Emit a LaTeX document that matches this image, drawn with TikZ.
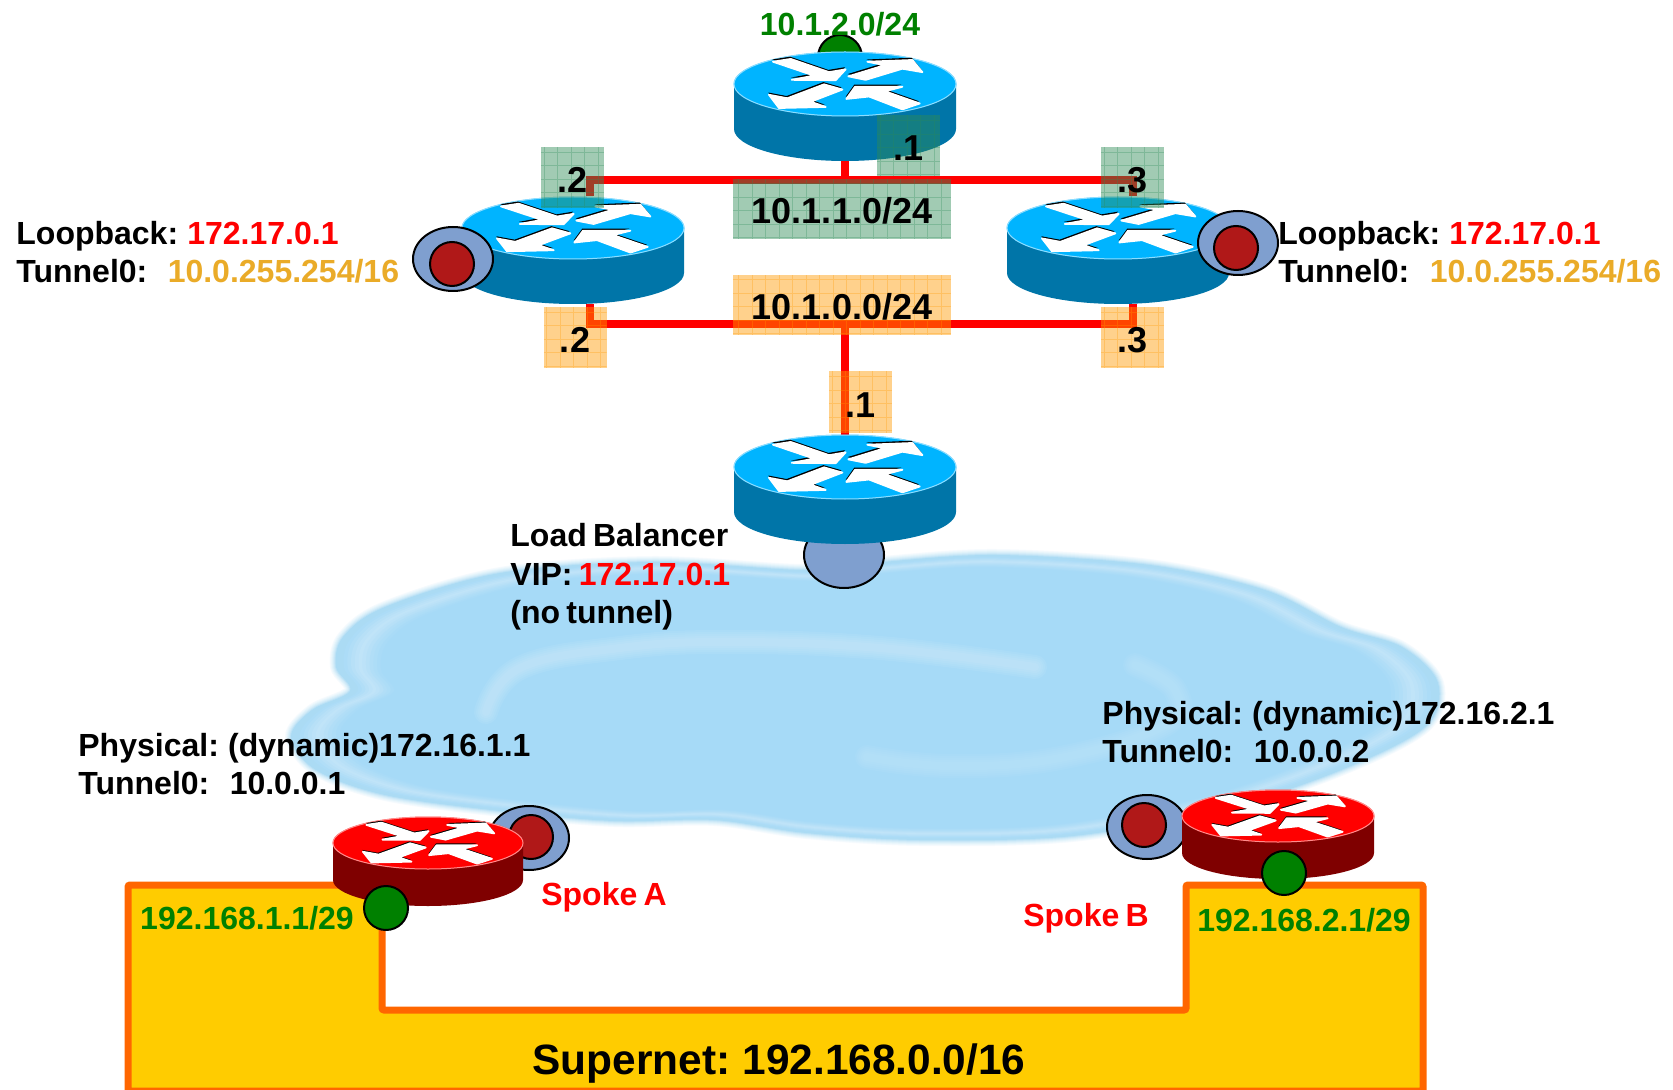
\documentclass[tikz,border=0pt]{standalone}
\usepackage{fontspec}
\setmainfont{Liberation Sans}[WordSpace=0.7]
\definecolor{cloudmain}{HTML}{A6DAF7}
\definecolor{cloudedge}{HTML}{ABDBF4}
\definecolor{cloudband}{HTML}{CBE8F8}
\definecolor{bluetop}{HTML}{00B4FF}
\definecolor{blueside}{HTML}{0075A8}
\definecolor{redtop}{HTML}{FF0000}
\definecolor{redside}{HTML}{7F0000}
\definecolor{portblue}{HTML}{7F9FCF}
\definecolor{portred}{HTML}{B01818}
\definecolor{netgreen}{HTML}{008000}
\definecolor{tunnelgold}{HTML}{EAAB28}
\definecolor{superfill}{HTML}{FFCC00}
\definecolor{superline}{HTML}{FF6600}
\definecolor{seagreen}{HTML}{2E8B57}
\definecolor{patchorange}{HTML}{FF9900}
\tikzset{
  labeltext/.style={font=\fontsize{16}{19.2}\selectfont\bfseries,align=left,anchor=west,inner sep=0pt},
  lantext/.style={font=\fontsize{16}{19}\selectfont\bfseries,inner sep=0pt},
  bigtext/.style={font=\fontsize{18}{21}\selectfont\bfseries,inner sep=0pt,text height=15pt,text depth=0pt},
  redlink/.style={draw=red,line width=3.7pt},
  portring/.style={draw=black,line width=1pt,fill=portblue},
  portdot/.style={draw=black,line width=1pt,fill=portred},
  netdot/.style={draw=black,line width=1pt,fill=netgreen},
  greenpatch/.style={bigtext,fill=seagreen,fill opacity=0.45,text opacity=1,
    path picture={\draw[seagreen,draw opacity=0.3,line width=0.4pt,step=6.75pt]
      (path picture bounding box.south west) grid (path picture bounding box.north east);}},
  orangepatch/.style={bigtext,fill=patchorange,fill opacity=0.45,text opacity=1,
    path picture={\draw[patchorange,draw opacity=0.3,line width=0.4pt,step=6.75pt]
      (path picture bounding box.south west) grid (path picture bounding box.north east);}},
  smallpatch/.style={minimum width=31.5pt,minimum height=30.5pt},
  widepatch/.style={minimum width=109pt,minimum height=30pt},
}
\newcommand{\tunnelgap}{\hspace*{10.2pt}}
% white arrows on a router lid, unit is the lid radius
\def\lidarrows{
  (-0.649,-0.696) -- (-0.489,-0.783) -- (-0.144,-0.370) -- (0.006,-0.457) -- (-0.084,-0.120) -- (-0.480,-0.130) -- (-0.279,-0.261) -- cycle
  (0.030,-0.239) -- (0.357,-0.587) -- (0.201,-0.696) -- (0.607,-0.750) -- (0.697,-0.370) -- (0.517,-0.478) -- (0.186,-0.130) -- cycle
  (-0.685,0.337) -- (-0.520,0.446) -- (-0.189,0.011) -- (-0.024,0.174) -- (-0.309,0.554) -- (-0.174,0.717) -- (-0.595,0.750) -- cycle
  (0.012,0.467) -- (0.090,0.087) -- (0.517,0.087) -- (0.360,0.228) -- (0.673,0.609) -- (0.517,0.793) -- (0.216,0.391) -- cycle}
% name, x, y, x radius, y radius, depth, lid colour, side colour
\newcommand{\routericon}[8]{
  \coordinate (#1) at (#2,#3);
  \begin{scope}[shift={(#2,#3)}]
    \fill[#8] (-#4,0) -- (-#4,#6) arc[start angle=180,end angle=0,x radius=#4,y radius=#5] -- (#4,0) -- cycle;
    \draw[#7,fill=#7,line width=0.5pt] (0,0) ellipse[x radius=#4,y radius=#5];
    \draw[white,opacity=0.55,line width=0.5pt] (0,0) ellipse[x radius=#4,y radius=#5];
    \begin{scope}[xscale=#4,yscale=#5]
      \fill[black,shift={(-0.006,-0.07)}] \lidarrows;
      \draw[white,fill=white,line width=0.9pt,line join=round] \lidarrows;
    \end{scope}
  \end{scope}
}
\def\cloudpath{plot[smooth cycle,tension=0.55] coordinates {
  (291,737) (312,710) (350,691) (336,667) (343,637) (385,607) (500,573) (652,562) (806,570) (882,562)
  (997,555) (1150,565) (1265,590) (1341,627) (1402,647) (1438,683) (1425,727) (1341,770)
  (1226,808) (1073,836) (920,840) (806,833) (714,820) (614,821) (500,811) (385,795) (316,770)}}
\begin{document}
\begin{tikzpicture}[x=0.5pt,y=-0.5pt]
    \useasboundingbox (0,0) rectangle (1673,1090);

    % Cloud with soft edge
    \foreach \w/\c in {6/10,5/20,4/32,3/45,2/60,1/80}
        \draw[cloudedge!\c!white,line width=\w pt] \cloudpath;
    \fill[cloudedge] \cloudpath;
    \foreach \s/\c in {0.985/15,0.978/30,0.971/45,0.964/60,0.957/70,0.950/60,0.943/45,0.936/30,0.929/18,0.922/8,0.915/0} {
        \begin{scope}[shift={(868,700)},scale=\s,shift={(-868,-700)}]
            \fill[cloudband!\c!cloudmain] \cloudpath;
        \end{scope}
    }
    % Lighter swirls inside the cloud
    \foreach \w in {12,10,8,6,4} {
        \draw[white,opacity=0.06,line width=\w pt,line cap=round]
            plot[smooth,tension=0.7] coordinates {(486,712) (520,668) (620,648) (729,642) (880,648) (1035,667)};
        \draw[white,opacity=0.035,line width=\w pt,line cap=round]
            plot[smooth,tension=0.7] coordinates {(867,757) (950,766) (1060,758) (1165,725) (1175,690) (1135,665)};
    }

    % Supernet block
    \draw[fill=superfill,draw=superline,line width=3.5pt,rounded corners=1pt]
        (128,885) -- (382,885) -- (382,1010) -- (1186,1010) -- (1186,885)
        -- (1423,885) -- (1423,1091) -- (128,1091) -- cycle;

    % Ports behind the routers
    \draw[netdot] (840,57) circle[radius=22];
    \draw[portring] (844,555) ellipse[x radius=40,y radius=33];
    \draw[portring] (529,838) ellipse[x radius=40,y radius=32];
    \draw[portdot] (531,837) circle[radius=22];
    \draw[portring] (1147,827) ellipse[x radius=40,y radius=32];
    \draw[portdot] (1144,825) circle[radius=22];

    % Red links
    \coordinate (topstem) at (845,160);
    \coordinate (topjoin) at (845,180);
    \coordinate (topleft) at (590,180);
    \coordinate (topright) at (1133,180);
    \coordinate (topleftport) at (590,196);
    \coordinate (toprightport) at (1133,196);
    \coordinate (lowleft) at (590,324);
    \coordinate (lowright) at (1133,324);
    \coordinate (lowleftport) at (590,304);
    \coordinate (lowrightport) at (1133,304);
    \coordinate (lowjoin) at (845,324);
    \coordinate (balancerport) at (845,436);
    \draw[redlink] (topleftport) -- (topleft) -- (topright) -- (toprightport);
    \draw[redlink] (topstem) -- (topjoin);
    \draw[redlink] (lowleftport) -- (lowleft) -- (lowright) -- (lowrightport);
    \draw[redlink] (lowjoin) -- (balancerport);

    % Routers
    \routericon{routertop}{845}{84}{111}{32}{45}{bluetop}{blueside}
    \routericon{routerleft}{573}{228}{111}{31}{45}{bluetop}{blueside}
    \routericon{routerright}{1118}{228}{111}{31}{45}{bluetop}{blueside}
    \routericon{routerbalancer}{845}{467}{111}{32}{45}{bluetop}{blueside}
    \routericon{spokea}{428}{843}{95}{26}{37}{redtop}{redside}
    \routericon{spokeb}{1278}{816}{96}{26}{37}{redtop}{redside}

    % Ports in front of the routers
    \draw[portring] (453,259) ellipse[x radius=40,y radius=32];
    \draw[portdot] (452,264) circle[radius=22];
    \draw[portring] (1238,243) ellipse[x radius=40,y radius=32];
    \draw[portdot] (1236,248) circle[radius=22];
    \draw[netdot] (386,908) circle[radius=22];
    \draw[netdot] (1284,873) circle[radius=22];

    % Address patches
    \node[greenpatch,smallpatch] (greenleft) at (572.5,177.5) {.2};
    \node[greenpatch,smallpatch] (greentop) at (908.5,146) {.1};
    \node[greenpatch,smallpatch] (greenright) at (1132.5,177.5) {.3};
    \node[greenpatch,widepatch] (greennet) at (842,209) {10.1.1.0/24};
    \node[orangepatch,smallpatch] (orangeleft) at (575,337.5) {.2};
    \node[orangepatch,smallpatch] (orangeright) at (1132.5,337.5) {.3};
    \node[orangepatch,smallpatch] (orangebalancer) at (860.5,402) {.1};
    \node[orangepatch,widepatch] (orangenet) at (842,305) {10.1.0.0/24};

    % Labels
    \node[lantext,text=netgreen] (toplan) at (840,24) {10.1.2.0/24};
    \node[labeltext] (hubleft) at (16,252) {Loopback: \textcolor{red}{172.17.0.1}\\Tunnel0:\tunnelgap\textcolor{tunnelgold}{10.0.255.254/16}};
    \node[labeltext] (hubright) at (1278,252) {Loopback: \textcolor{red}{172.17.0.1}\\Tunnel0:\tunnelgap\textcolor{tunnelgold}{10.0.255.254/16}};
    \node[labeltext] (balancer) at (510,577) {Load Balancer\\VIP: \textcolor{red}{172.17.0.1}\\(no tunnel)};
    \node[labeltext] (physa) at (78,764) {Physical: (dynamic)172.16.1.1\\Tunnel0:\tunnelgap 10.0.0.1};
    \node[labeltext] (physb) at (1102,732) {Physical: (dynamic)172.16.2.1\\Tunnel0:\tunnelgap 10.0.0.2};
    \node[lantext,text=red] (spokealabel) at (604,897) {Spoke A};
    \node[lantext,text=red] (spokeblabel) at (1086,918) {Spoke B};
    \node[lantext,text=netgreen] (lana) at (247,918) {192.168.1.1/29};
    \node[lantext,text=netgreen] (lanb) at (1304,920) {192.168.2.1/29};
    \node[font=\fontsize{21.2}{25}\selectfont\bfseries,inner sep=0pt] (supernet) at (779,1064) {Supernet: 192.168.0.0/16};
\end{tikzpicture}
\end{document}
